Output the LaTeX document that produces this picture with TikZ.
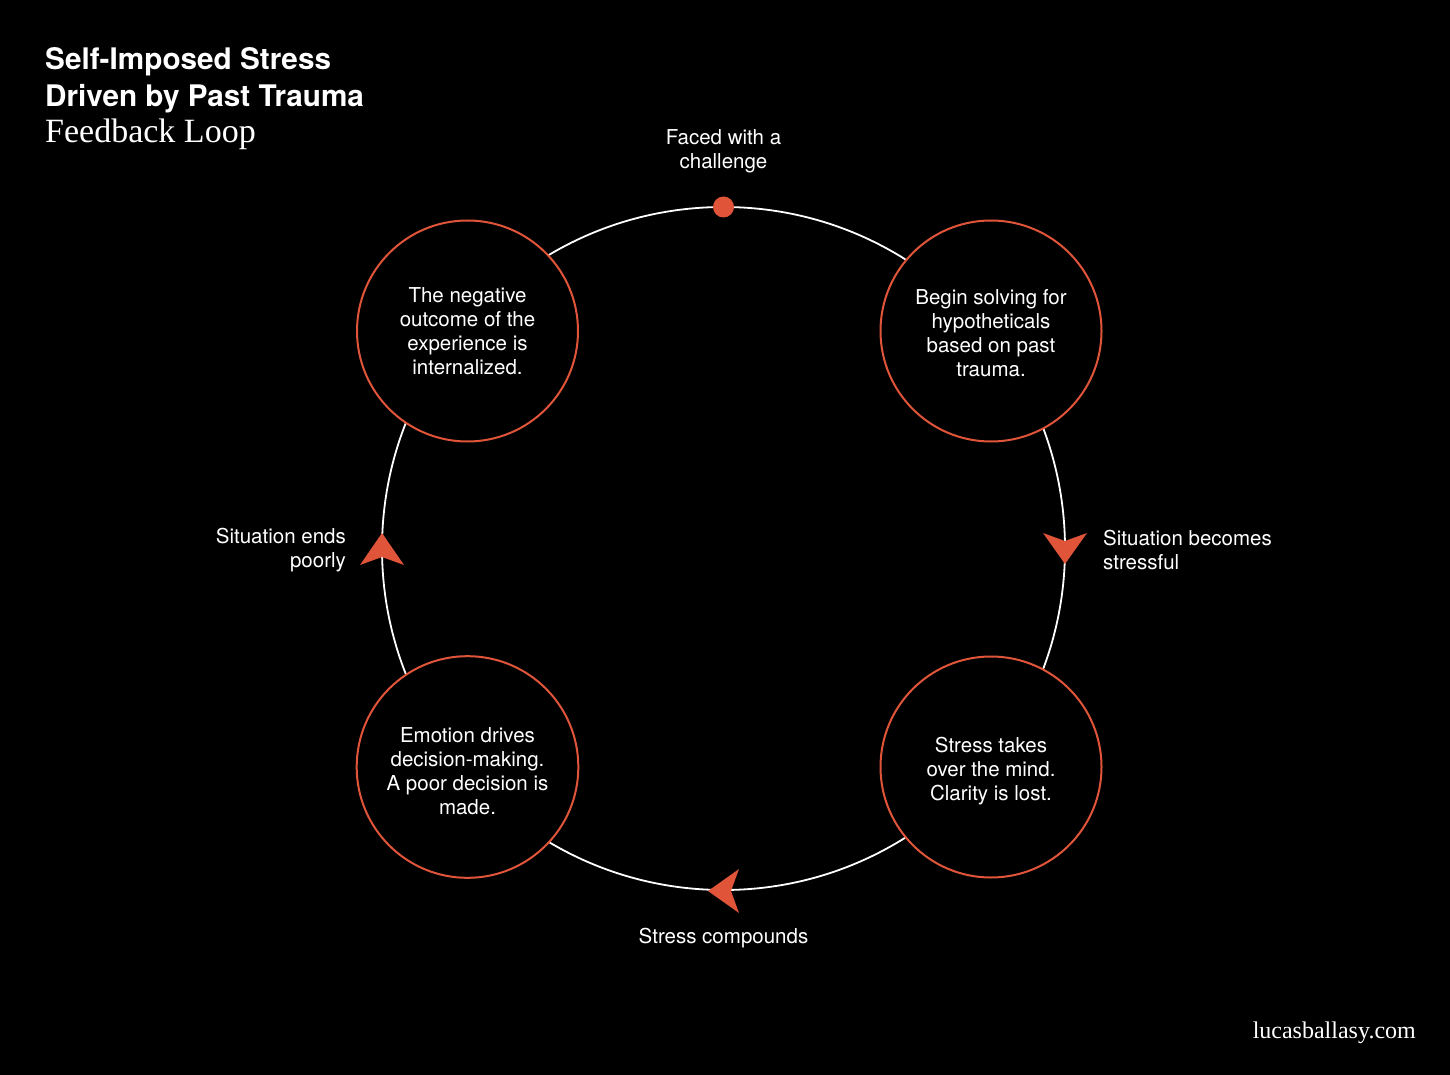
\documentclass[tikz,border=0pt]{standalone}
\usepackage{fontspec}
\setmainfont{TeX Gyre Heros}
\newfontfamily\serifface{Liberation Serif}
\definecolor{accent}{HTML}{E0553A}
\begin{document}
\begin{tikzpicture}[x=1pt,y=-1pt,
  stage/.style={circle, draw=accent, line width=2pt, fill=black, minimum size=221pt, inner sep=0pt, text=white, align=center, font=\fontsize{20.5}{24}\selectfont},
  lbl/.style={text=white, font=\fontsize{20.5}{24}\selectfont, inner sep=0pt},
  loopline/.style={draw=white, line width=1.8pt},
  tiptri/.style={fill=accent},
  title/.style={text=white, inner sep=0pt, anchor=base west, font=\fontsize{29.7}{37}\selectfont\bfseries}]
\fill[black] (0,0) rectangle (1450,1075);
\useasboundingbox (0,0) rectangle (1450,1075);
\coordinate (C) at (723.5,548.5);
\draw[loopline] (C) circle[radius=341.5pt];

\node[stage] (neg) at (467.5,331) {The negative\\outcome of the\\experience is\\internalized.};
\node[stage] (begin) at (991,331) {\parbox{200pt}{\centering\vspace*{4pt}Begin solving for\\hypotheticals\\based on past\\trauma.}};
\node[stage] (emo) at (467.5,767) {\parbox{200pt}{\centering\vspace*{9pt}Emotion drives\\decision-making.\\A poor decision is\\made.}};
\node[stage] (stress) at (991,767) {\parbox{200pt}{\centering\vspace*{8pt}Stress takes\\over the mind.\\Clarity is lost.}};

\fill[accent] (723.5,207) circle[radius=10.5pt];
% arrowheads
\fill[tiptri] (1065,564) -- (1043,533) -- (1065,541) -- (1087,533) -- cycle;
\fill[tiptri] (708,891) -- (739,869) -- (731,891) -- (739,913) -- cycle;
\fill[tiptri] (382,533) -- (360,565) -- (382,557) -- (404,565) -- cycle;

\node[lbl, align=center] (faced) at (723.5,151.5) {Faced with a\\challenge};
\node[lbl, align=right, anchor=east] (ends) at (346,550) {Situation ends\\poorly};
\node[lbl, align=left, anchor=west] (becomes) at (1103,550) {Situation becomes\\stressful};
\node[lbl] (compounds) at (723.5,938) {Stress compounds};

\node[title] (t1) at (45,70) {Self-Imposed Stress};
\node[title] (t2) at (45,107) {Driven by Past Trauma};
\node[text=white, inner sep=0pt, anchor=base west, font=\serifface\fontsize{34}{40}\selectfont] (sub) at (45,143) {Feedback Loop};
\node[text=white, inner sep=0pt, anchor=base east, font=\serifface\fontsize{24}{28}\selectfont] (site) at (1416,1038) {lucasballasy.com};
\end{tikzpicture}
\end{document}
